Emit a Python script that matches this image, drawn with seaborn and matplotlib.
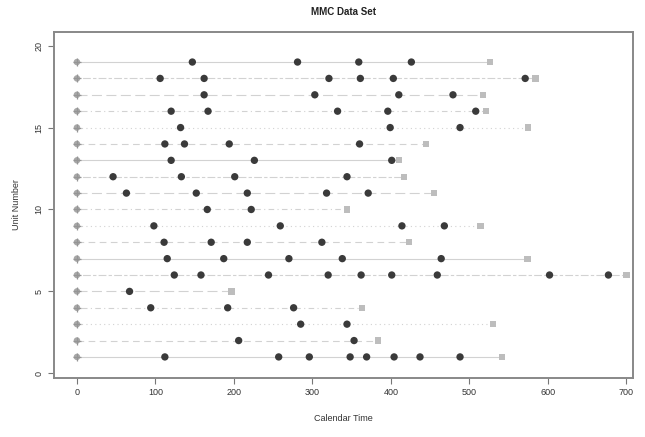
import pandas as pd
import matplotlib
matplotlib.use("Agg")
import matplotlib.pyplot as plt
import seaborn as sns

# MMC data: recurrent events per unit
units = list(range(1, 20))
end_times = [541, 383, 530, 363, 197, 700, 574, 423, 514, 344,
             455, 417, 410, 445, 575, 521, 517, 584, 526]
event_times = [
    [112, 257, 296, 348, 369, 404, 437, 488],       # 1
    [206, 353],                                     # 2
    [285, 344],                                     # 3
    [94, 192, 276],                                 # 4
    [67],                                           # 5
    [124, 158, 244, 320, 362, 401, 459, 602, 677],  # 6
    [115, 187, 270, 338, 464],                      # 7
    [111, 171, 217, 312],                           # 8
    [98, 259, 414, 468],                            # 9
    [166, 222],                                     # 10
    [63, 152, 217, 318, 371],                       # 11
    [46, 133, 201, 344],                            # 12
    [120, 226, 401],                                # 13
    [112, 137, 194, 360],                           # 14
    [132, 399, 488],                                # 15
    [120, 167, 332, 396, 508],                      # 16
    [162, 303, 410, 479],                           # 17
    [106, 162, 321, 361, 403, 571],                 # 18
    [147, 281, 359, 426],                           # 19
]

events = pd.DataFrame(
    [(u, t) for u, ts in zip(units, event_times) for t in ts],
    columns=["unit", "time"])
ends = pd.DataFrame({"unit": units, "time": end_times})
starts = pd.DataFrame({"unit": units, "time": [0] * len(units)})

sns.set_theme(style="ticks")
plt.rcParams["font.family"] = ["Liberation Sans", "DejaVu Sans"]

fig = plt.figure(figsize=(6.45, 4.37), dpi=100)
ax = fig.add_axes([0.084, 0.136, 0.897, 0.791])

styles = ["-", (0, (6, 4)), (0, (1, 3)), (0, (1, 3, 5, 3)), (0, (9, 4)), (0, (3, 2, 7, 2))]
for i, (u, e) in enumerate(zip(units, end_times)):
    ax.plot([0, e], [u, u], color="#d2d2d2", lw=0.8,
            linestyle=styles[i % len(styles)], zorder=1)

sns.scatterplot(data=starts, x="time", y="unit", ax=ax, marker="o", s=22,
                color="#a8a8a8", edgecolor="none", zorder=2)
sns.scatterplot(data=starts, x="time", y="unit", ax=ax, marker="+", s=40,
                color="#959595", linewidth=0.9, zorder=3)
sns.scatterplot(data=ends, x="time", y="unit", ax=ax, marker="s", s=20,
                color="#bdbdbd", edgecolor="none", zorder=2)
sns.scatterplot(data=events, x="time", y="unit", ax=ax, marker="o", s=28,
                color="#3a3a3a", edgecolor="none", zorder=4)

ax.set_xlim(-29, 708)
ax.set_ylim(-0.26, 20.84)
ax.set_xticks(range(0, 701, 100))
ax.set_yticks(range(0, 21, 5))
ax.tick_params(axis="both", labelsize=6.5, length=4, width=0.8,
               color="#777777", labelcolor="#333333")
for lab in ax.get_yticklabels():
    lab.set_rotation(90)
    lab.set_va("center")
for sp in ax.spines.values():
    sp.set_color("#888888")
    sp.set_linewidth(1.4)

ax.set_xlabel("Calendar Time", fontsize=6.5, color="#333333", labelpad=12)
ax.set_ylabel("Unit Number", fontsize=6.5, color="#333333", labelpad=10)
ax.set_title("MMC Data Set", fontsize=7, fontweight="bold", color="#222222", pad=12)

fig.savefig("out.png", dpi=100)
